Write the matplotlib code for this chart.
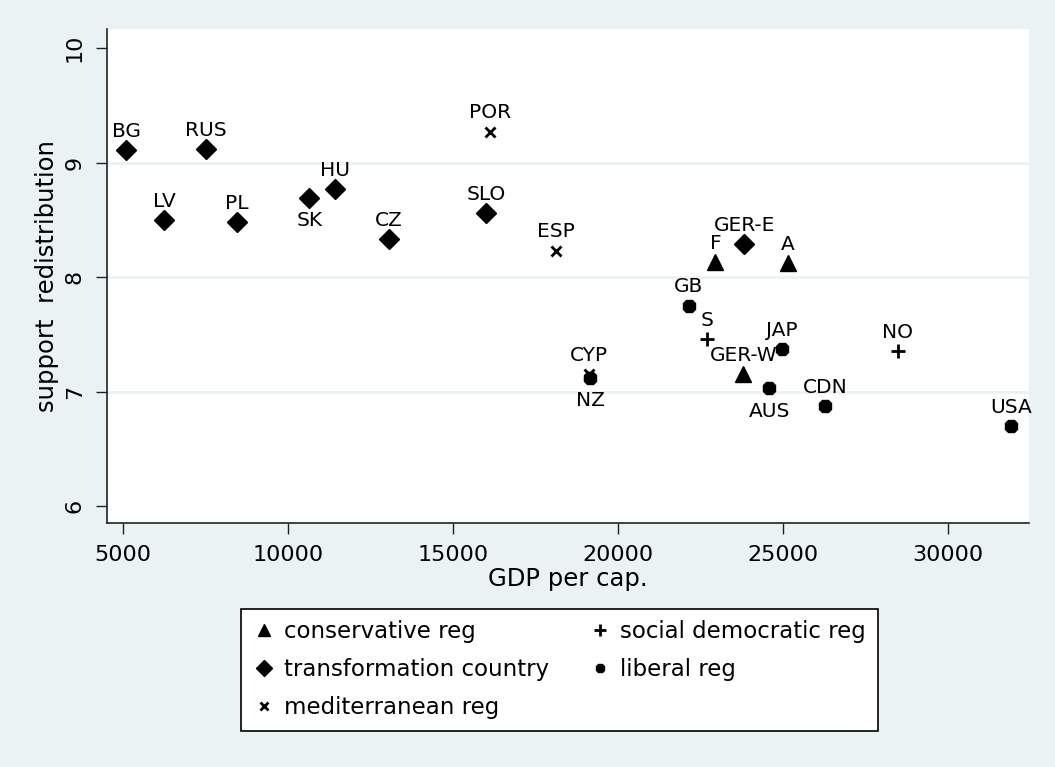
import numpy as np
import matplotlib.pyplot as plt
from matplotlib.lines import Line2D

bg = "#EAF2F3"

cons_names = ["F", "A", "GER-W"]
cons_gdp = [22950, 25140, 23800]
cons_sup = [8.13, 8.12, 7.15]

trans_names = ["BG", "LV", "RUS", "PL", "SK", "HU", "CZ", "SLO", "GER-E"]
trans_gdp = [5090, 6250, 7515, 8445, 10645, 11435, 13050, 16000, 23820]
trans_sup = [9.11, 8.50, 9.12, 8.48, 8.69, 8.77, 8.33, 8.56, 8.29]

med_names = ["POR", "ESP", "CYP"]
med_gdp = [16120, 18120, 19130]
med_sup = [9.27, 8.23, 7.15]

soc_names = ["S", "NO"]
soc_gdp = [22705, 28475]
soc_sup = [7.46, 7.35]

lib_names = ["GB", "JAP", "NZ", "AUS", "CDN", "USA"]
lib_gdp = [22140, 24970, 19150, 24585, 26275, 31910]
lib_sup = [7.75, 7.37, 7.12, 7.03, 6.87, 6.70]

below = ["SK", "NZ", "AUS"]

plt.rcParams["font.family"] = ["DejaVu Sans"]
fig = plt.figure(figsize=(10.55, 7.67), dpi=100, facecolor=bg)
ax = fig.add_axes([0.1014, 0.3181, 0.874, 0.6441])
ax.set_facecolor("white")

groups = [
    (cons_names, cons_gdp, cons_sup, "^", 11, 1.0),
    (trans_names, trans_gdp, trans_sup, "D", 10.5, 1.0),
    (med_names, med_gdp, med_sup, "x", 7.5, 2.0),
    (soc_names, soc_gdp, soc_sup, "+", 10.5, 2.0),
    (lib_names, lib_gdp, lib_sup, "8", 9.5, 1.0),
]

for names, gdp, sup, m, ms, mew in groups:
    ax.plot(gdp, sup, ls="none", marker=m, ms=ms, mew=mew, color="black", zorder=3)
    for n, xx, yy in zip(names, gdp, sup):
        if n in below:
            ax.annotate(n, (xx, yy), xytext=(0, -16.5), textcoords="offset points",
                        ha="center", va="center", fontsize=14.5)
        else:
            ax.annotate(n, (xx, yy), xytext=(0, 13.5), textcoords="offset points",
                        ha="center", va="center", fontsize=14.5)

ax.set_xlim(4515, 32455)
ax.set_ylim(5.852, 10.166)
ax.set_xticks([5000, 10000, 15000, 20000, 25000, 30000])
ax.set_yticks([6, 7, 8, 9, 10])
for g in [7, 8, 9]:
    ax.axhline(g, color=bg, lw=2, zorder=1)

for s in ["top", "right"]:
    ax.spines[s].set_visible(False)
for s in ["left", "bottom"]:
    ax.spines[s].set_color("#222222")
    ax.spines[s].set_linewidth(1.2)
ax.tick_params(direction="out", length=8, width=1, color="#222222", labelsize=16, pad=8)
for lab in ax.get_yticklabels():
    lab.set_rotation(90)
    lab.set_va("center")

ax.set_xlabel("GDP per cap.", fontsize=17.5, labelpad=1)
ax.set_ylabel("support  redistribution", fontsize=17.5, labelpad=4)

handles = [
    Line2D([], [], ls="none", marker="^", ms=9, color="black"),
    Line2D([], [], ls="none", marker="D", ms=8, color="black"),
    Line2D([], [], ls="none", marker="x", ms=6, mew=2, color="black"),
    Line2D([], [], ls="none", marker="+", ms=9, mew=2, color="black"),
    Line2D([], [], ls="none", marker="8", ms=7, color="black"),
]
labels = ["conservative reg", "transformation country", "mediterranean reg",
          "social democratic reg", "liberal reg"]
leg = fig.legend(handles, labels, ncol=2, loc="upper center", bbox_to_anchor=(0.530, 0.206),
                 fontsize=16.5, frameon=True, fancybox=False, edgecolor="black",
                 facecolor="white", framealpha=1, handlelength=1.0, handletextpad=0.4,
                 labelspacing=0.65, columnspacing=1.7, borderpad=0.5, borderaxespad=0)
leg.get_frame().set_linewidth(1.2)

plt.savefig("out.png", dpi=100, facecolor=bg)
